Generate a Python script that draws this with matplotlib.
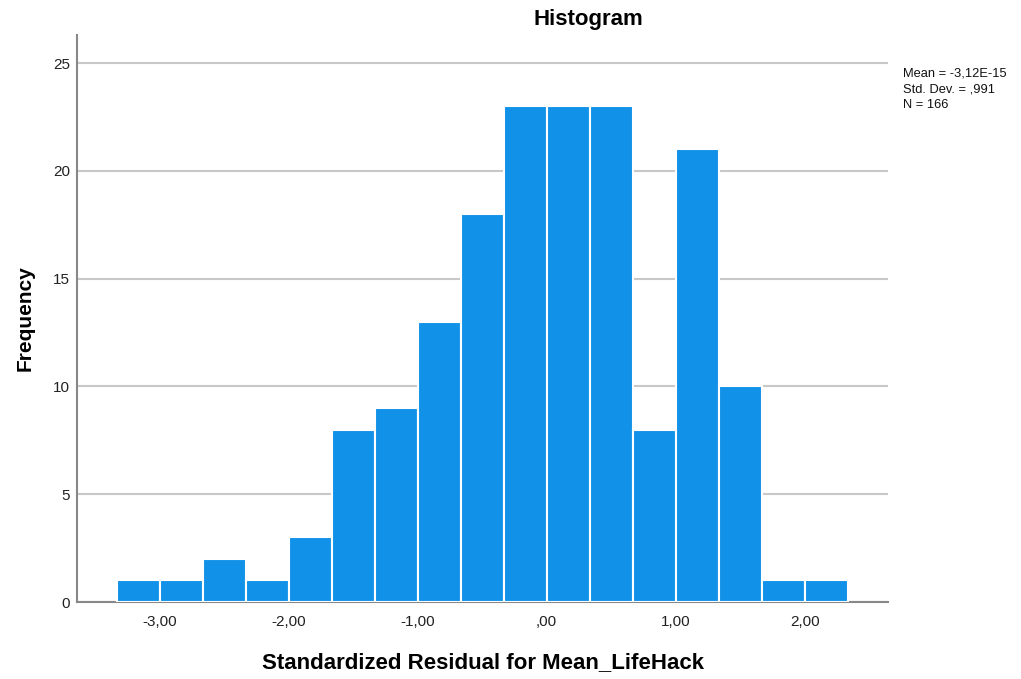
import numpy as np
import matplotlib.pyplot as plt

plt.rcParams['font.family'] = ['Liberation Sans', 'DejaVu Sans']

# residual histogram, bin width 1/3 starting at -10/3
bin_start = -10 / 3
bin_width = 1 / 3
counts = [1, 1, 2, 1, 3, 8, 9, 13, 18, 23, 23, 23, 8, 21, 10, 1, 1]
xticks = [-3, -2, -1, 0, 1, 2]
xtick_labels = ['-3,00', '-2,00', '-1,00', ',00', '1,00', '2,00']
yticks = [0, 5, 10, 15, 20, 25]
stats_text = 'Mean = -3,12E-15\nStd. Dev. = ,991\nN = 166'

edges = bin_start + bin_width * np.arange(len(counts) + 1)

fig = plt.figure(figsize=(10.21, 6.79), dpi=100)
ax = fig.add_axes([77 / 1021, 1 - 602 / 679, (888 - 77) / 1021, (602 - 35) / 679])

ax.bar(edges[:-1], counts, width=bin_width, align='edge',
       color='#1192e8', edgecolor='white', linewidth=1.5, zorder=3)

ax.set_xlim(-3.64, 2.645)
ax.set_ylim(0, 26.3)
ax.set_xticks(xticks)
ax.set_xticklabels(xtick_labels)
ax.set_yticks(yticks)
ax.tick_params(length=0, labelsize=11, colors='#222222')
ax.tick_params(axis='x', pad=9)
ax.tick_params(axis='y', pad=5)
ax.yaxis.grid(True, color='#c8c8c8', linewidth=1.5, zorder=0)

for side in ['top', 'right']:
    ax.spines[side].set_visible(False)
for side in ['left', 'bottom']:
    ax.spines[side].set_color('#888888')
    ax.spines[side].set_linewidth(1.5)

# title sits over the whole chart area, not just the axes
fig.text(588 / 1021, 1 - 20 / 679, 'Histogram', fontsize=16,
         fontweight='bold', ha='center', va='center')
ax.set_xlabel('Standardized Residual for Mean_LifeHack', fontsize=16,
              fontweight='bold', labelpad=17)
ax.set_ylabel('Frequency', fontsize=15, fontweight='bold', labelpad=13)

fig.text(903 / 1021, 1 - 67 / 679, stats_text, fontsize=9.3, va='top',
         ha='left', linespacing=1.45, color='#111111')

fig.savefig('out.png', dpi=100)
